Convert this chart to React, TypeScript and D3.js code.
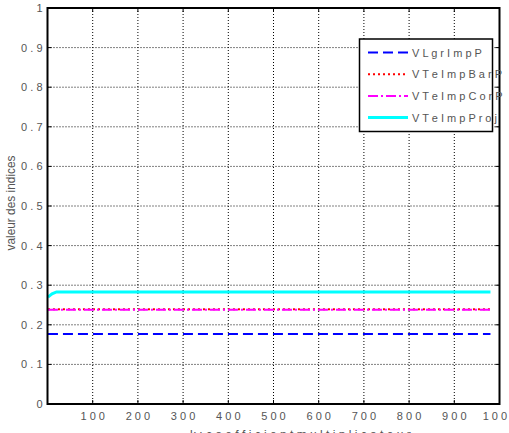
import React from "react";
import * as d3 from "d3";

const xTicks = [100, 200, 300, 400, 500, 600, 700, 800, 900, 1000];
const yTicks = [0, 0.1, 0.2, 0.3, 0.4, 0.5, 0.6, 0.7, 0.8, 0.9, 1];
const kValues = [1, 10, 20, 100, 200, 300, 400, 500, 600, 700, 800, 900, 980];
const VLgrImpP = [0.177, 0.177, 0.177, 0.177, 0.177, 0.177, 0.177, 0.177, 0.177, 0.177, 0.177, 0.177, 0.177];
const VTeImpBarP = [0.239, 0.239, 0.239, 0.239, 0.239, 0.239, 0.239, 0.239, 0.239, 0.239, 0.239, 0.239, 0.239];
const VTeImpCorP = [0.238, 0.238, 0.238, 0.238, 0.238, 0.238, 0.238, 0.238, 0.238, 0.238, 0.238, 0.238, 0.238];
const VTeImpProj = [0.27, 0.278, 0.283, 0.283, 0.283, 0.283, 0.283, 0.283, 0.283, 0.283, 0.283, 0.283, 0.283];
const seriesNames = ["VLgrImpP", "VTeImpBarP", "VTeImpCorP", "VTeImpProj"];

const W = 509, H = 433;
const m = { l: 47.5, r: 499.5, t: 8, b: 404 };
const font = "'Liberation Sans', Arial, sans-serif";

export default function App() {
  const x = d3.scaleLinear().domain([0, 1000]).range([m.l, m.r]);
  const y = d3.scaleLinear().domain([0, 1]).range([m.b, m.t]);
  const line = d3.line<[number, number]>().x(d => x(d[0])).y(d => y(d[1]));
  const mk = (vals: number[]) => kValues.map((k, i) => [k, vals[i]] as [number, number]);
  const styles = [
    { vals: VLgrImpP, color: "#0000ff", dash: "10,5", w: 2 },
    { vals: VTeImpBarP, color: "#ff0000", dash: "2,3", w: 2 },
    { vals: VTeImpCorP, color: "#ff00ff", dash: "10,3,2,3", w: 2 },
    { vals: VTeImpProj, color: "#00ffff", dash: "", w: 3 },
  ];
  const lg = { x0: 359.5, y0: 39, x1: 492.5, y1: 131.5 };
  const spaced = (s: string) => s.split("").join(" ");
  return (
    <svg width={W} height={H} style={{ position: "absolute", left: 0, top: 0, background: "#fff" }}>
      {/* grid */}
      {xTicks.filter(t => t < 1000).map(t => (
        <line key={"gx" + t} x1={x(t)} x2={x(t)} y1={m.t} y2={m.b} stroke="#000" strokeWidth={1} strokeDasharray="1,2" />
      ))}
      {yTicks.filter(t => t > 0 && t < 1).map(t => (
        <line key={"gy" + t} x1={m.l} x2={m.r} y1={y(t)} y2={y(t)} stroke="#000" strokeWidth={1} strokeDasharray="1,2" />
      ))}
      {/* ticks */}
      {xTicks.map(t => (
        <g key={"tx" + t}>
          <line x1={x(t)} x2={x(t)} y1={m.b} y2={m.b - 4} stroke="#000" />
          <line x1={x(t)} x2={x(t)} y1={m.t} y2={m.t + 4} stroke="#000" />
        </g>
      ))}
      {yTicks.map(t => (
        <g key={"ty" + t}>
          <line x1={m.l} x2={m.l + 4} y1={y(t)} y2={y(t)} stroke="#000" />
          <line x1={m.r} x2={m.r - 4} y1={y(t)} y2={y(t)} stroke="#000" />
        </g>
      ))}
      {/* lines */}
      {styles.map((s, i) => (
        <path key={"s" + i} d={line(mk(s.vals)) || ""} fill="none" stroke={s.color} strokeWidth={s.w} strokeDasharray={s.dash} />
      ))}
      {/* frame */}
      <rect x={m.l} y={m.t} width={m.r - m.l} height={m.b - m.t} fill="none" stroke="#000" strokeWidth={2} />
      {/* tick labels */}
      {yTicks.map(t => (
        <text key={"ly" + t} x={m.l - 5} y={y(t) + 4} textAnchor="end" fontFamily={font} fontSize={11} fill="#555">
          {spaced(t === 0 ? "0" : t === 1 ? "1" : t.toFixed(1))}
        </text>
      ))}
      {xTicks.map(t => (
        <text key={"lx" + t} x={x(t)} y={m.b + 16} textAnchor="middle" fontFamily={font} fontSize={11} fill="#555">
          {spaced(String(t))}
        </text>
      ))}
      <text transform={`translate(15,203) rotate(-90)`} textAnchor="middle" fontFamily={font} fontSize={13} fill="#555"
        textLength={95} lengthAdjust="spacingAndGlyphs">
        valeur des indices
      </text>
      <text x={190} y={439} textAnchor="start" fontFamily={font} fontSize={12} fill="#555">
        {spaced("k : coefficient multiplicateur")}
      </text>
      {/* legend */}
      <rect x={lg.x0} y={lg.y0} width={lg.x1 - lg.x0} height={lg.y1 - lg.y0} fill="#fff" stroke="#000" strokeWidth={1.5} />
      {styles.map((s, i) => {
        const yy = 52.5 + i * 21.7;
        return (
          <g key={"lg" + i}>
            <line x1={368} x2={408} y1={yy} y2={yy} stroke={s.color} strokeWidth={s.w} strokeDasharray={s.dash} />
            <text x={412} y={yy + 4} fontFamily={font} fontSize={11} fill="#555">{spaced(seriesNames[i])}</text>
          </g>
        );
      })}
    </svg>
  );
}
